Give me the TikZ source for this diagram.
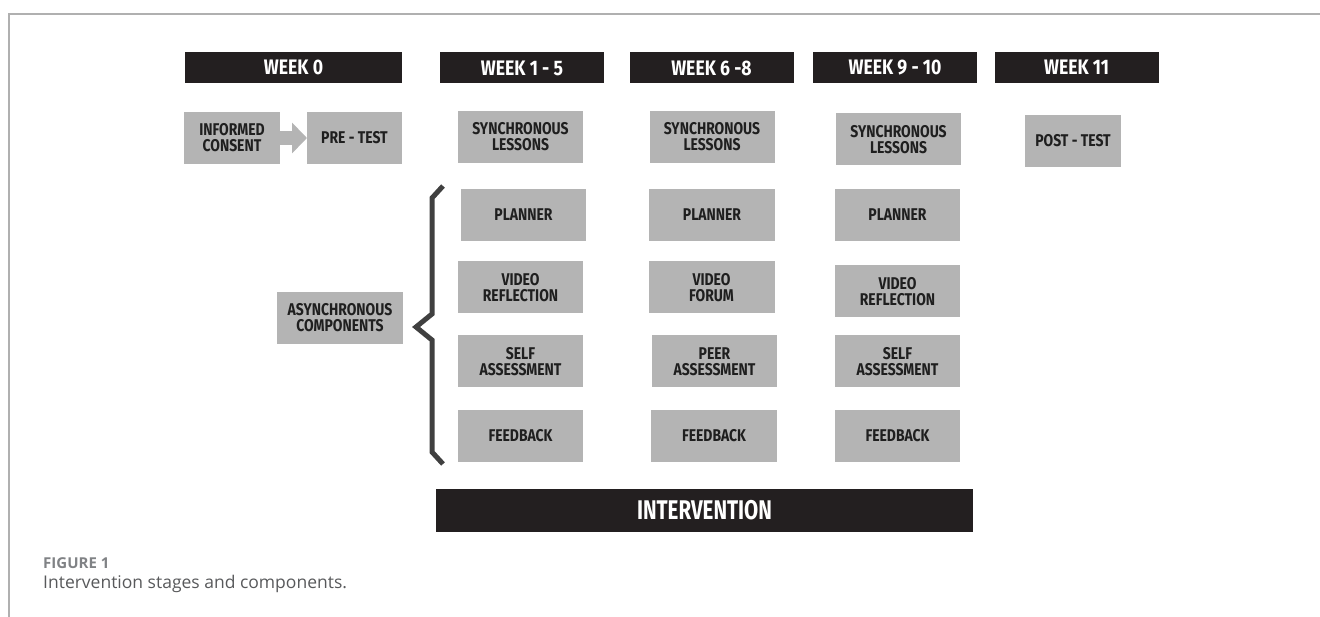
\documentclass[tikz,border=0pt]{standalone}
\usepackage{fontspec}
\usetikzlibrary{arrows.meta}
\newfontfamily\boxfont[FakeStretch=0.82]{Fira Sans}
\newfontfamily\barfont[FakeStretch=0.84]{Fira Sans}
\newfontfamily\bigfont[FakeStretch=0.76]{Fira Sans}
\newfontfamily\capfont{Open Sans}
\definecolor{boxgray}{HTML}{B4B4B4}
\definecolor{bardark}{HTML}{231F20}
\definecolor{framegray}{HTML}{B0B0B0}
\definecolor{capgray}{HTML}{58595B}
\definecolor{figgray}{HTML}{808285}

\begin{document}
\begin{tikzpicture}[
  x = 1pt, y = -1pt,
  week/.style = {
    shape = rectangle,
    fill = bardark,
    text = white,
    font = \barfont\bfseries\fontsize{21}{21}\selectfont,
    minimum width = 164pt,
    minimum height = 31pt,
    inner sep = 0pt,
    outer sep = 0pt,
  },
  task/.style = {
    shape = rectangle,
    fill = boxgray,
    text = black!88,
    align = center,
    font = \boxfont\bfseries\fontsize{17}{16}\selectfont,
    minimum width = 125pt,
    minimum height = 52pt,
    inner sep = 0pt,
    outer sep = 0pt,
  }
]
  \useasboundingbox (0, 0) rectangle (1320, 617);
  \draw[framegray, line width = 1.5pt] (9, 617) -- (9, 14) -- (1320, 14);

  \node[week, minimum width = 217pt] (w0) at (293.5, 67.5) {WEEK 0};
  \node[week] (w1) at (522, 68) {WEEK 1 - 5};
  \node[week] (w2) at (711.5, 68) {WEEK 6 -8};
  \node[week] (w3) at (895, 68) {WEEK 9 - 10};
  \node[week] (w4) at (1076.5, 67.5) {WEEK 11};

  \node[task, minimum width = 96pt] (consent) at (232, 138) {INFORMED\\CONSENT};
  \node[task, minimum width = 95pt] (pretest) at (354.5, 138) {PRE - TEST};
  \node[task] (sync1) at (520.5, 137) {SYNCHRONOUS\\LESSONS};
  \node[task] (sync2) at (712, 137) {SYNCHRONOUS\\LESSONS};
  \node[task] (sync3) at (898.5, 139.5) {SYNCHRONOUS\\LESSONS};
  \node[task, minimum width = 96pt] (posttest) at (1073, 141) {POST - TEST};

  \node[task, minimum width = 126pt] (async) at (340, 318) {ASYNCHRONOUS\\COMPONENTS};

  \node[task] (plan1) at (523.5, 215) {PLANNER};
  \node[task] (video1) at (520.5, 287.5) {VIDEO\\REFLECTION};
  \node[task] (self1) at (520.5, 361.5) {SELF\\ASSESSMENT};
  \node[task] (feed1) at (520.5, 436) {FEEDBACK};

  \node[task, minimum width = 126pt] (plan2) at (712, 215) {PLANNER};
  \node[task, minimum width = 126pt] (video2) at (711.5, 287.5) {VIDEO\\FORUM};
  \node[task] (peer2) at (714.5, 361.5) {PEER\\ASSESSMENT};
  \node[task, minimum width = 126pt] (feed2) at (714, 436) {FEEDBACK};

  \node[task] (plan3) at (897.5, 215) {PLANNER};
  \node[task] (video3) at (897.5, 291.5) {VIDEO\\REFLECTION};
  \node[task] (self3) at (897.5, 361.5) {SELF\\ASSESSMENT};
  \node[task] (feed3) at (897.5, 436) {FEEDBACK};

  \node[week, minimum width = 537pt, minimum height = 43pt,
    font = \bigfont\bfseries\fontsize{27}{27}\selectfont] (interv) at (704.5, 510.5) {INTERVENTION};

  \draw[line width = 14pt, boxgray, -{Triangle[length = 15pt, width = 30pt]}]
    (consent) -- (pretest);

  \draw[black!75, line width = 5pt, line join = miter]
    (443, 186) -- (432, 198) -- (432, 314) -- (416, 327)
    -- (432, 340) -- (432, 452) -- (443, 464);

  \node[anchor = base west, inner sep = 0pt, text = figgray,
    font = \capfont\bfseries\fontsize{15}{15}\selectfont] (fig) at (43, 568) {FIGURE 1};
  \node[anchor = base west, inner sep = 0pt, text = capgray,
    font = \capfont\fontsize{17.5}{17.5}\selectfont] (caption) at (43, 588)
    {Intervention stages and components.};
\end{tikzpicture}
\end{document}
